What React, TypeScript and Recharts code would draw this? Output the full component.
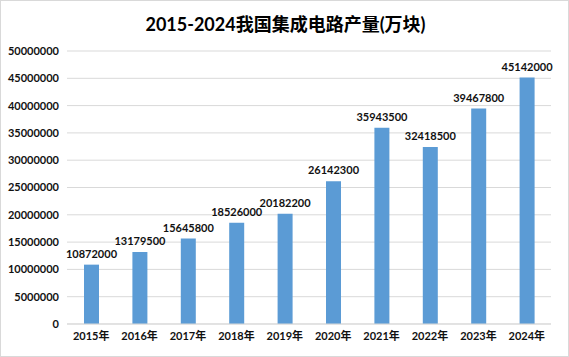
import { BarChart, Bar, XAxis, YAxis, CartesianGrid, LabelList } from "recharts";

const years = ["2015年", "2016年", "2017年", "2018年", "2019年", "2020年", "2021年", "2022年", "2023年", "2024年"];
const output = [10872000, 13179500, 15645800, 18526000, 20182200, 26142300, 35943500, 32418500, 39467800, 45142000];
const yTicks = [0, 5000000, 10000000, 15000000, 20000000, 25000000, 30000000, 35000000, 40000000, 45000000, 50000000];

const data = years.map((year, i) => ({ year, value: output[i] }));

const font = "Lato, 'Noto Sans CJK SC', sans-serif";

export default function App() {
  return (
    <div
      style={{
        position: "fixed",
        left: 0,
        top: 0,
        width: 569,
        height: 357,
        background: "#fff",
        boxSizing: "border-box",
        border: "1px solid #d9d9d9",
        fontFamily: font,
      }}
    >
      <div
        style={{
          position: "absolute",
          top: 9,
          left: 0,
          width: 569,
          textAlign: "center",
          fontSize: 18,
          fontWeight: 700,
          color: "#000",
        }}
      >
        2015-2024我国集成电路产量(万块)
      </div>
      <BarChart
        width={567}
        height={355}
        data={data}
        margin={{ top: 50, right: 17, bottom: 8, left: 0 }}
        style={{ position: "absolute", left: 0, top: 0 }}
      >
        <CartesianGrid vertical={false} stroke="#d9d9d9" />
        <XAxis
          dataKey="year"
          axisLine={{ stroke: "#d9d9d9" }}
          tickLine={false}
          height={24}
          tick={{ fontSize: 11, fontWeight: 700, fill: "#111", fontFamily: font }}
          interval={0}
        />
        <YAxis
          width={66}
          domain={[0, 50000000]}
          ticks={yTicks}
          axisLine={false}
          tickLine={false}
          tick={{ fontSize: 11, fontWeight: 700, fill: "#111", fontFamily: font }}
        />
        <Bar dataKey="value" fill="#5b9bd5" barSize={15} isAnimationActive={false}>
          <LabelList
            dataKey="value"
            position="top"
            offset={7}
            style={{ fontSize: 11, fontWeight: 700, fill: "#111", fontFamily: font }}
          />
        </Bar>
      </BarChart>
    </div>
  );
}
